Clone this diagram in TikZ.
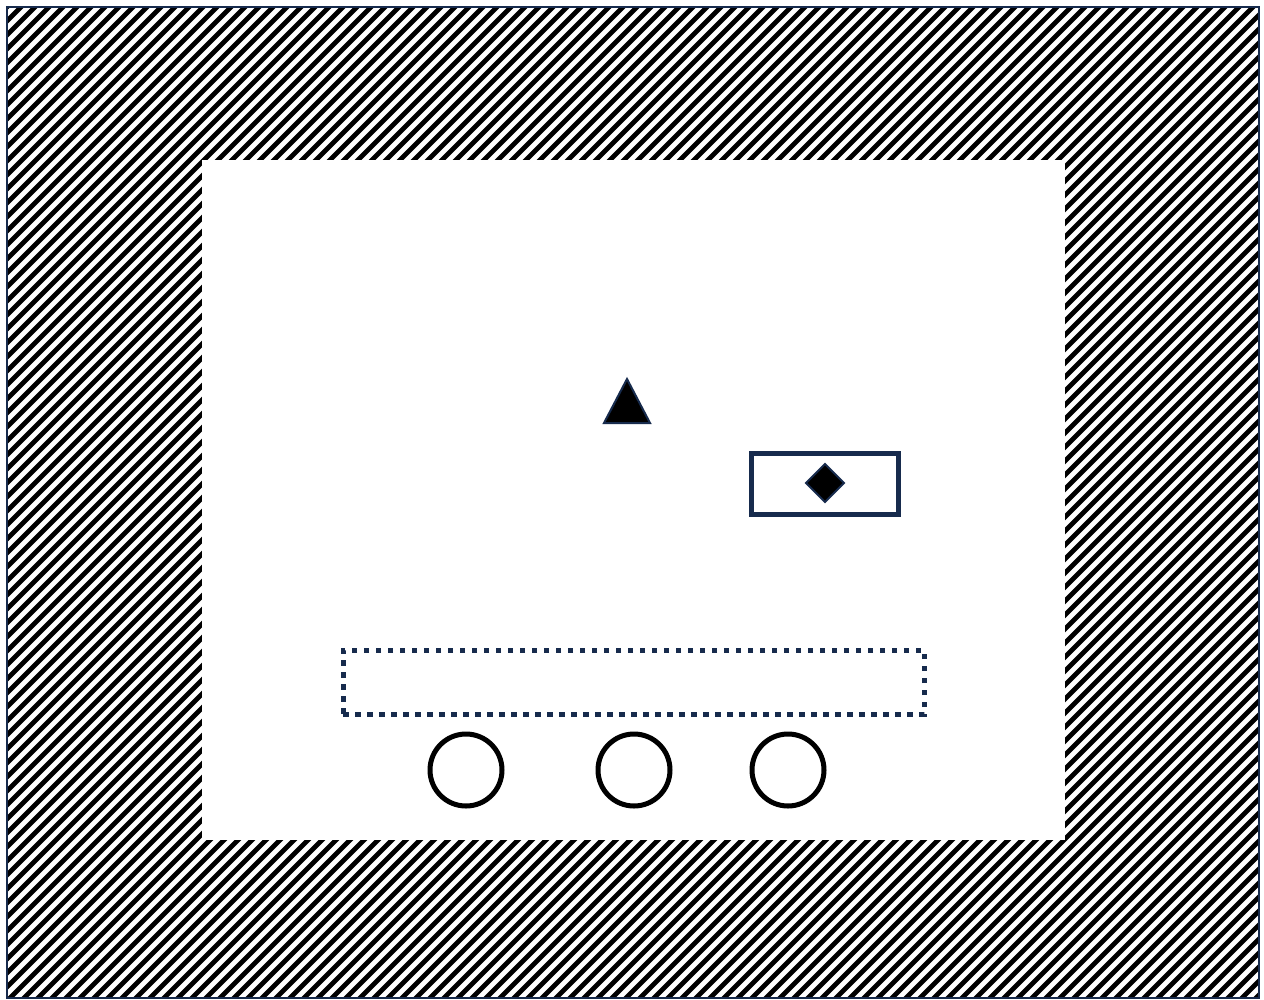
\documentclass[tikz,border=0pt]{standalone}
\definecolor{navy}{RGB}{23,43,77}
\begin{document}
\begin{tikzpicture}[x=1pt,y=-1pt,
  wheel/.style={circle,draw=black,line width=5pt,minimum size=72pt,inner sep=0pt},
  hatchline/.style={black,line width=4.8pt}]
\useasboundingbox (0,0) rectangle (1264,999);
\fill[white] (0,0) rectangle (1264,999);
% hatched frame
\begin{scope}
\clip (6,6) rectangle (1258,997);
\foreach \k in {-1000,-986,...,1270}{
  \draw[hatchline] (\k,1000) -- ({\k+1000},0);
}
\end{scope}
\node[draw=navy,line width=2pt,minimum width=1252pt,minimum height=991pt,inner sep=0pt,anchor=north west] (frame) at (6,6) {};
\node[fill=white,minimum width=863pt,minimum height=680pt,inner sep=0pt,anchor=north west] (area) at (202,160) {};
% triangle
\draw[fill=black,draw=navy,line width=2pt] (627,379) -- (650,423) -- (604,423) -- cycle;
% box with diamond
\node[draw=navy,line width=5.5pt,minimum width=147pt,minimum height=61pt,inner sep=0pt] (box) at (825,484) {};
\draw[fill=black,draw=navy,line width=2pt] (825,464) -- (844,483) -- (825,502) -- (806,483) -- cycle;
% dotted rectangle
\node[draw=navy,line width=5pt,dash pattern=on 5.5pt off 6.5pt,minimum width=581pt,minimum height=64pt,inner sep=0pt] (bar) at (633.5,682) {};
% wheels
\node[wheel] (w1) at (466,770) {};
\node[wheel] (w2) at (634,770) {};
\node[wheel] (w3) at (788,770) {};
\end{tikzpicture}
\end{document}
